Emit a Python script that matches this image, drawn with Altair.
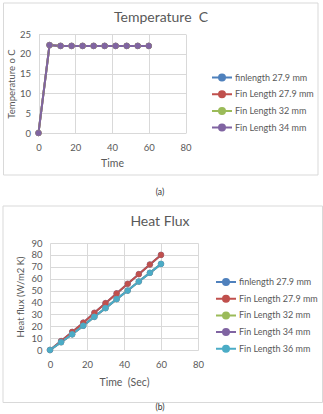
import altair as alt
import pandas as pd

# ---------------- data ----------------
time_s = [0, 6, 12, 18, 24, 30, 36, 42, 48, 54, 60]

temp_series = ["finlength 27.9 mm", "Fin Length 27.9 mm", "Fin Length 32 mm", "Fin Length 34 mm"]
temp_colors = ["#4F81BD", "#C0504D", "#9BBB59", "#8064A2"]
temp_finlength_27_9 = [0, 22.2, 22.0, 22.0, 22.0, 22.0, 22.0, 22.0, 22.0, 22.0, 22.0]
temp_fin_27_9 = [0, 22.2, 22.0, 22.0, 22.0, 22.0, 22.0, 22.0, 22.0, 22.0, 22.0]
temp_fin_32 = [0, 22.2, 22.0, 22.0, 22.0, 22.0, 22.0, 22.0, 22.0, 22.0, 22.0]
temp_fin_34 = [0, 22.2, 22.0, 22.0, 22.0, 22.0, 22.0, 22.0, 22.0, 22.0, 22.0]

flux_series = ["finlength 27.9 mm", "Fin Length 27.9 mm", "Fin Length 32 mm",
               "Fin Length 34 mm", "Fin Length 36 mm"]
flux_colors = ["#4F81BD", "#C0504D", "#9BBB59", "#8064A2", "#4BACC6"]
flux_finlength_27_9 = [0, 7.5, 15.2, 23.0, 31.3, 39.4, 47.6, 55.7, 63.8, 71.9, 80.0]
flux_fin_27_9 = [0, 7.5, 15.2, 23.0, 31.3, 39.4, 47.6, 55.7, 63.8, 71.9, 80.0]
flux_fin_32 = [0, 6.5, 13.2, 20.4, 27.9, 35.2, 42.8, 50.0, 57.6, 64.9, 72.4]
flux_fin_34 = [0, 6.5, 13.2, 20.4, 27.9, 35.2, 42.8, 50.0, 57.6, 64.9, 72.4]
flux_fin_36 = [0, 6.5, 13.2, 20.4, 27.9, 35.2, 42.8, 50.0, 57.6, 64.9, 72.4]

x_ticks = [0, 20, 40, 60, 80]
temp_ticks = [0, 5, 10, 15, 20, 25]
flux_ticks = [0, 10, 20, 30, 40, 50, 60, 70, 80, 90]

# ---------------- styling ----------------
FONT = "Lato"
GRAY = "#595959"
GRID = "#D9D9D9"
BORDER = "#D9D9D9"
LEGEND_PATH = "M-2,0H2M0.6,0A0.6,0.6 0 1,1 -0.6,0A0.6,0.6 0 1,1 0.6,0"


def frame(names, values):
    rows = []
    for k, (name, vals) in enumerate(zip(names, values)):
        for t, v in zip(time_s, vals):
            rows.append({"Time": t, "Value": v, "Series": name, "k": k})
    return pd.DataFrame(rows)


def panel(df, names, colors, title, ytitle, xtitle, ydomain, yticks,
          w, h, xrange, yoffset, border, title_pos, caption, caption_pos, legend_pos,
          xtitle_pad, ytitle_pad):
    base = alt.Chart(df)
    xenc = alt.X("Time:Q", scale=alt.Scale(domain=[0, 80], nice=False, range=xrange),
                 axis=alt.Axis(values=x_ticks, title=xtitle, grid=True, gridColor=GRID,
                               domain=False, ticks=False, tickSize=0, labelPadding=9,
                               labelOverlap=False, labelFlush=False,
                               labelFont=FONT, labelFontSize=9.5, labelColor=GRAY,
                               titleFont=FONT, titleFontSize=10.5, titleFontWeight="normal",
                               titleColor=GRAY, titlePadding=xtitle_pad))
    yenc = alt.Y("Value:Q", scale=alt.Scale(domain=ydomain, nice=False),
                 axis=alt.Axis(values=yticks, title=ytitle, grid=True, gridColor=GRID,
                               domain=False, ticks=False, tickSize=0, labelPadding=8,
                               labelOverlap=False, labelFlush=False, offset=yoffset,
                               labelFont=FONT, labelFontSize=9.5, labelColor=GRAY,
                               titleFont=FONT, titleFontSize=9.5, titleFontWeight="normal",
                               titleColor=GRAY, titlePadding=ytitle_pad))
    cscale = alt.Scale(domain=names, range=colors)
    leg = alt.Legend(title=None, orient="none", legendX=legend_pos[0], legendY=legend_pos[1],
                     symbolType=LEGEND_PATH, symbolSize=100, symbolStrokeWidth=2,
                     labelFont=FONT, labelFontSize=9, labelColor=GRAY, labelOffset=7,
                     rowPadding=2.7, padding=0)
    lines = base.mark_line(strokeWidth=2).encode(
        x=xenc, y=yenc,
        color=alt.Color("Series:N", scale=cscale, legend=leg),
        detail="Series:N",
        order="Time:Q",
    )
    points = base.mark_point(filled=True, size=32, strokeWidth=0.5, opacity=1).encode(
        x=xenc, y=yenc,
        color=alt.Color("Series:N", scale=cscale, legend=leg),
        stroke=alt.Stroke("Series:N", scale=cscale, legend=leg),
        order="k:Q",
    )
    one = pd.DataFrame({"d": [0]})
    box = alt.Chart(one).mark_rect(fillOpacity=0, stroke=BORDER, strokeWidth=1).encode(
        x=alt.value(border[0]), x2=alt.value(border[1]),
        y=alt.value(border[2]), y2=alt.value(border[3]))
    ttl = alt.Chart(pd.DataFrame({"t": [title]})).mark_text(
        font=FONT, fontSize=14, color=GRAY, align="center", baseline="middle").encode(
        text="t:N", x=alt.value(title_pos[0]), y=alt.value(title_pos[1]))
    cap = alt.Chart(pd.DataFrame({"t": [caption]})).mark_text(
        font=FONT, fontSize=8.5, color="#333333", align="center", baseline="middle").encode(
        text="t:N", x=alt.value(caption_pos[0]), y=alt.value(caption_pos[1]))
    return alt.layer(box, lines, points, ttl, cap).properties(width=w, height=h)


temp_df = frame(temp_series, [temp_finlength_27_9, temp_fin_27_9, temp_fin_32, temp_fin_34])
flux_df = frame(flux_series, [flux_finlength_27_9, flux_fin_27_9, flux_fin_32,
                              flux_fin_34, flux_fin_36])

pa = panel(temp_df, temp_series, temp_colors, "Temperature\u00a0\u00a0C", "Temperature o C", "Time",
           [0, 25], temp_ticks, 147, 99, xrange=[-11.5, 135.5], yoffset=11.5,
           border=(-46.5, 268, -31, 141), title_pos=(111, -16),
           caption="(a)", caption_pos=(110, 158), legend_pos=(166, 37.5),
           xtitle_pad=7, ytitle_pad=3)
pb = panel(flux_df, flux_series, flux_colors, "Heat Flux", "Heat flux (W/m2 K)",
           "Time\u00a0\u00a0(Sec)",
           [0, 90], flux_ticks, 148, 107, xrange=[0, 148], yoffset=0,
           border=(-47, 272.5, -37, 159.5), title_pos=(110, -21),
           caption="(b)", caption_pos=(110, 164), legend_pos=(170, 33),
           xtitle_pad=9, ytitle_pad=5)

chart = alt.vconcat(pa, pb, spacing=8).resolve_scale(
    color="independent", stroke="independent", x="independent", y="independent"
).properties(
    padding={"left": 2, "top": 2, "right": 0, "bottom": 0},
    background="white",
).configure_view(stroke=None).configure_axis(labelOverlap=False)

chart.save("out.html", embed_options={"renderer": "svg", "actions": False})
